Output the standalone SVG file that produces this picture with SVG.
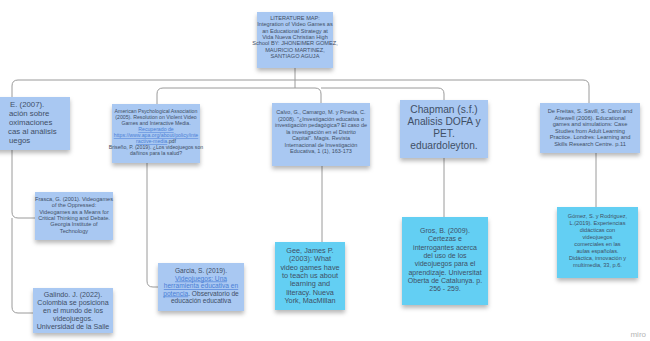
<svg xmlns="http://www.w3.org/2000/svg" width="650" height="341" viewBox="0 0 650 341">
<defs>
<filter id="sh" x="-20%" y="-20%" width="140%" height="150%">
<feDropShadow dx="0" dy="3" stdDeviation="2" flood-color="#000" flood-opacity="0.28"/>
</filter>
<style>
.n{fill:#a9c8f2;filter:url(#sh)}
.c{fill:#63cff3;filter:url(#sh)}
text{font-family:"Liberation Sans",Arial,sans-serif;fill:#3f4f66;text-anchor:middle}
.lk{fill:#4a7fd6;text-decoration:underline}
.ln{fill:none;stroke:#9a9a9a;stroke-width:1}
.st{text-anchor:start}
</style>
</defs>
<rect width="650" height="341" fill="#ffffff"/>
<g id="connectors">
<path class="ln" d="M295,68 V80 H18 Q12,80 12,86 V97"/>
<path class="ln" d="M295,80 V88 H163 Q157,88 157,94 V104"/>
<path class="ln" d="M295,88 H315 Q321,88 321,94 V103"/>
<path class="ln" d="M321,88 H438 Q444,88 444,94 V100"/>
<path class="ln" d="M295,80 H583 Q589,80 589,86 V103"/>
<path class="ln" d="M12,150 V212 Q12,218 18,218 H35"/>
<path class="ln" d="M12,218 V307 Q12,313 18,313 H33"/>
<path class="ln" d="M147,163 V281 Q147,287 153,287 H158"/>
<path class="ln" d="M322,166 V242"/>
<path class="ln" d="M444,158 V217"/>
<path class="ln" d="M596,153 V207"/>
</g>
<g id="top">
<rect class="n" x="257" y="12" width="76" height="56"/>
<g font-size="5.6">
<text x="295" y="20">LITERATURE MAP:</text>
<text x="295" y="26.3">Integration of Video Games as</text>
<text x="295" y="32.6">an Educational Strategy at</text>
<text x="295" y="38.9">Vida Nueva Christian High</text>
<text x="295" y="45.2">School BY: JHONEIMER GOMEZ,</text>
<text x="295" y="51.5">MAURICIO MARTINEZ,</text>
<text x="295" y="57.8">SANTIAGO AGUJA</text>
</g>
</g>
<g id="left">
<rect class="n" x="-30" y="97" width="100" height="53"/>
<g font-size="7.8">
<text class="st" x="10" y="107">E. (2007).</text>
<text class="st" x="9" y="116">ación sobre</text>
<text class="st" x="9" y="125">oximaciones</text>
<text class="st" x="8" y="134">cas al análisis</text>
<text class="st" x="9" y="143">uegos</text>
</g>
</g>
<g id="apa">
<rect class="n" x="112" y="104" width="88" height="59"/>
<g font-size="5.2">
<text x="156" y="113">American Psychological Association</text>
<text x="156" y="119">(2005). Resolution on Violent Video</text>
<text x="156" y="125">Games and Interactive Media.</text>
<text x="156" y="131" class="lk">Recuperado de</text>
<text x="156" y="137" class="lk">https://www.apa.org/about/policy/inte</text>
<text x="156" y="143"><tspan class="lk">ractive-media</tspan>.pdf</text>
<text x="156" y="149">Briseño, P. (2019). ¿Los videojuegos son</text>
<text x="156" y="155">dañinos para la salud?</text>
</g>
</g>
<g id="calvo">
<rect class="n" x="272" y="103" width="98" height="63"/>
<g font-size="5.5">
<text x="321" y="114">Calvo, G., Camargo, M. y Pineda, C.</text>
<text x="321" y="120.5">(2008). "¿Investigación educativa o</text>
<text x="321" y="127">investigación pedagógica? El caso de</text>
<text x="321" y="133.5">la investigación en el Distrito</text>
<text x="321" y="140">Capital". Magis. Revista</text>
<text x="321" y="146.5">Internacional de Investigación</text>
<text x="321" y="153">Educativa, 1 (1), 163-173</text>
</g>
</g>
<g id="chapman">
<rect class="n" x="400" y="100" width="88" height="58"/>
<g font-size="10.2">
<text x="444" y="113">Chapman (s.f.)</text>
<text x="444" y="125">Analisis DOFA y</text>
<text x="444" y="137">PET.</text>
<text x="444" y="149">eduardoleyton.</text>
</g>
</g>
<g id="defreitas">
<rect class="n" x="540" y="103" width="100" height="50"/>
<g font-size="5.7">
<text x="590" y="113">De Freitas, S. Savill, S. Carol and</text>
<text x="590" y="119.5">Attewell (2006). Educational</text>
<text x="590" y="126">games and simulations: Case</text>
<text x="590" y="132.5">Studies from Adult Learning</text>
<text x="590" y="139">Practice. Londres: Learning and</text>
<text x="590" y="145.5">Skills Research Centre. p.11</text>
</g>
</g>
<g id="frasca">
<rect class="n" x="35" y="192" width="78" height="48"/>
<g font-size="5.6">
<text x="74" y="201">Frasca, G. (2001). Videogames</text>
<text x="74" y="207.3">of the Oppressed:</text>
<text x="74" y="213.6">Videogames as a Means for</text>
<text x="74" y="219.9">Critical Thinking and Debate.</text>
<text x="74" y="226.2">Georgia Institute of</text>
<text x="74" y="232.5">Technology</text>
</g>
</g>
<g id="galindo">
<rect class="n" x="33" y="288" width="80" height="45"/>
<g font-size="7.1">
<text x="73" y="297">Galindo. J. (2022).</text>
<text x="73" y="305">Colombia se posiciona</text>
<text x="73" y="313">en el mundo de los</text>
<text x="73" y="321">videojuegos.</text>
<text x="73" y="329">Universidad de la Salle</text>
</g>
</g>
<g id="garcia">
<rect class="n" x="158" y="263" width="86" height="48"/>
<g font-size="6.6">
<text x="201" y="273">Garcia, S. (2019).</text>
<text x="201" y="280.5" class="lk">Videojuegos: Una</text>
<text x="201" y="288" class="lk">herramienta educativa en</text>
<text x="201" y="295.5"><tspan class="lk">potencia</tspan>. Observatorio de</text>
<text x="201" y="303">educación educativa</text>
</g>
</g>
<g id="gee">
<rect class="c" x="275" y="242" width="70" height="68"/>
<g font-size="7.3">
<text x="310" y="253">Gee, James P.</text>
<text x="310" y="261.3">(2003): What</text>
<text x="310" y="269.6">video games have</text>
<text x="310" y="277.9">to teach us about</text>
<text x="310" y="286.2">learning and</text>
<text x="310" y="294.5">literacy. Nueva</text>
<text x="310" y="302.8">York, MacMillan</text>
</g>
</g>
<g id="gros">
<rect class="c" x="402" y="217" width="86" height="88"/>
<g font-size="7">
<text x="445" y="233">Gros, B. (2009).</text>
<text x="445" y="241.3">Certezas e</text>
<text x="445" y="249.6">interrogantes acerca</text>
<text x="445" y="257.9">del uso de los</text>
<text x="445" y="266.2">videojuegos para el</text>
<text x="445" y="274.5">aprendizaje. Universitat</text>
<text x="445" y="282.8">Oberta de Catalunya. p.</text>
<text x="445" y="291.1">256 - 259.</text>
</g>
</g>
<g id="gomez">
<rect class="c" x="557" y="207" width="81" height="71"/>
<g font-size="5.6">
<text x="597.5" y="218">Gómez, S. y Rodriguez,</text>
<text x="597.5" y="225">L.(2019). Experiencias</text>
<text x="597.5" y="232">didácticas con</text>
<text x="597.5" y="239">videojuegos</text>
<text x="597.5" y="246">comerciales en las</text>
<text x="597.5" y="253">aulas españolas.</text>
<text x="597.5" y="260">Didáctica, innovación y</text>
<text x="597.5" y="267">multimedia, 33, p.6.</text>
</g>
</g>
<text x="646" y="337" font-size="8" style="fill:#b5b5b5;text-anchor:end">miro</text>
</svg>
